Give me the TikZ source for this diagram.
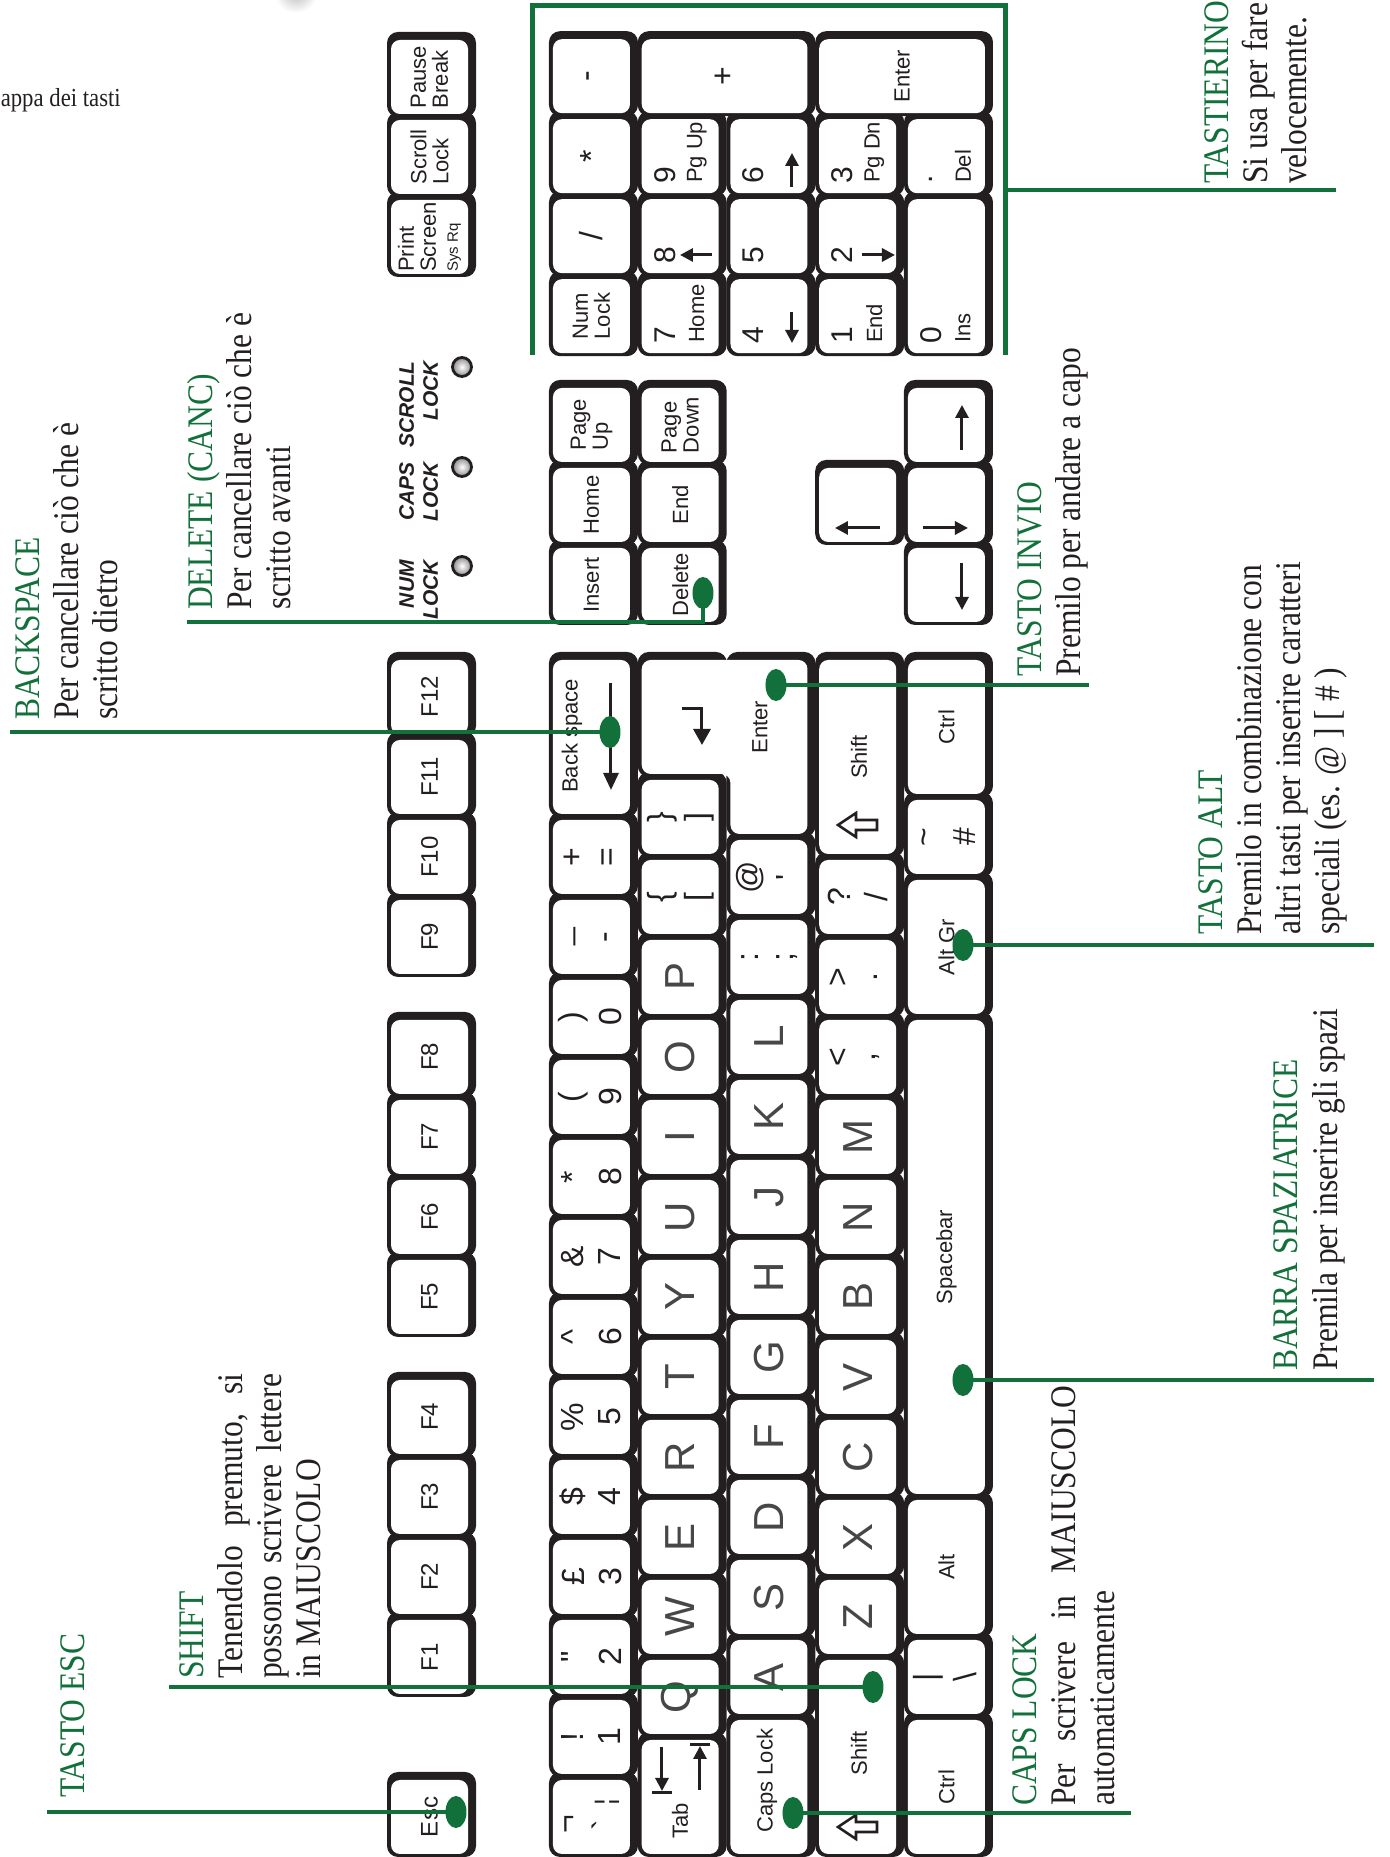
\documentclass[tikz,border=0pt]{standalone}
\usepackage{fontspec}
\setmainfont{Liberation Serif}
\newfontfamily\annfont{Liberation Serif}[FakeStretch=0.875]
\newfontfamily\keyfont{Liberation Sans}
\usetikzlibrary{arrows.meta}
\definecolor{kbGreen}{RGB}{18,112,58}
\definecolor{kbBlack}{RGB}{35,31,32}
\pgfdeclarelayer{keyshadow}
\pgfsetlayers{keyshadow,main}

% one key: [label style]{name}{column}{width}{row}{rows}{label}
\newcommand{\kbkey}[7][keysmall]{%
  \pgfmathsetmacro\kxa{80*(#3)+3}%
  \pgfmathsetmacro\kxb{80*((#3)+(#4))-3}%
  \pgfmathsetmacro\kya{759-88.75*(#5)}%
  \pgfmathsetmacro\kyb{\kya+77+88.75*((#6)-1)}%
  \pgfmathsetmacro\kxc{(\kxa+\kxb)/2}%
  \pgfmathsetmacro\kyc{(\kya+\kyb)/2}%
  \begin{pgfonlayer}{keyshadow}
    \fill[kbBlack, rounded corners=11pt] (\kxa-3,\kya-8) rectangle (\kxb+8,\kyb+4);
  \end{pgfonlayer}
  \fill[white, rounded corners=9pt] (\kxa,\kya) rectangle (\kxb,\kyb);
  \node[#1] (#2) at (\kxc,\kyc) {#7};
}
\newcommand{\kbtwo}[5]{%
  \kbkey{#1}{#2}{1}{#3}{1}{}%
  \node[keynum] (#1-up) at (\kxc,\kyc+18.5) {#4};
  \node[keynum] (#1-lo) at (\kxc,\kyc-18.5) {#5};
}
\newcommand{\kbpad}[5]{%
  \kbkey{#1}{#2}{1}{#3}{1}{}%
  \node[keypad, anchor=west] (#1-num) at (\kxa+9,\kya+54) {#4};
  \node[keysmall, anchor=west] (#1-txt) at (\kxa+10,\kya+22) {#5};
}
\newcommand{\kbshiftsym}[2]{%
  \draw[kbBlack, line width=2.6pt, line join=miter] (#1,#2+39) -- (#1+12,#2+21) -- (#1+5,#2+21)
    -- (#1+5,#2) -- (#1-5,#2) -- (#1-5,#2+21) -- (#1-12,#2+21) -- cycle;
}
\newcommand{\notetitle}[1]{\hbox{\color{kbGreen}#1}}

\begin{document}
\begin{tikzpicture}[x=1pt, y=1pt, rotate=90, transform shape,
  keysmall/.style={font=\keyfont\fontsize{22}{22}\selectfont, inner sep=0, align=center, text=kbBlack},
  keyfn/.style={font=\keyfont\fontsize{24}{24}\selectfont, inner sep=0, text=kbBlack},
  keylet/.style={font=\keyfont\fontsize{42}{42}\selectfont, inner sep=0, text=black!72},
  keynum/.style={font=\keyfont\fontsize{32}{32}\selectfont, inner sep=0, text=kbBlack},
  keypad/.style={font=\keyfont\fontsize{30}{30}\selectfont, inner sep=0, text=kbBlack},
  ledlab/.style={font=\keyfont\bfseries\itshape\fontsize{21}{21}\selectfont, inner sep=0, anchor=base east, text=kbBlack},
  note/.style={font=\annfont\fontsize{36}{39}\selectfont, inner sep=0, anchor=base west, text=kbBlack},
  leader/.style={kbGreen, line width=4.5pt},
  keydot/.style={kbGreen},
  keyarrow/.style={kbBlack, line width=3pt, -{Triangle[length=13pt, width=13pt]}}
]
\useasboundingbox (0,0) rectangle (1857,1389);
\shade[inner color=black!28, outer color=white] (1866,1093) circle (22);
\node[rotate=-90, anchor=base east, inner sep=0, font=\annfont\fontsize{26}{30}\selectfont, text=kbBlack]
  (mapTitle) at (1750,1268) {appa dei tasti};

% function row
\kbkey[keyfn]{kEsc}{0}{1}{-1.825}{1}{Esc}
\foreach \n/\c in {1/2,2/3,3/4,4/5,5/6.5,6/7.5,7/8.5,8/9.5,9/11,10/12,11/13,12/14}
  {\kbkey[keyfn]{kF\n}{\c}{1}{-1.825}{1}{F\n}}
\kbkey[keysmall, align=left]{kPrint}{19.75}{1}{-1.825}{1}{Print\\Screen\\{\fontsize{15}{16}\selectfont Sys Rq}}
\kbkey[keysmall, align=left]{kScroll}{20.75}{1}{-1.825}{1}{Scroll\\Lock}
\kbkey[keysmall, align=left]{kPause}{21.75}{1}{-1.825}{1}{Pause\\Break}

% number row
\kbkey{kGrave}{0}{1}{0}{1}{}
\node[keynum] (kGrave-up) at (33,818) {¬};
\node[keynum] (kGrave-lo) at (32,785) {\textasciigrave};
\node[keynum, font=\keyfont\fontsize{26}{26}\selectfont] (kGrave-bar) at (55,782) {¦};
\kbtwo{kOne}{1}{0}{!}{1}
\kbtwo{kTwo}{2}{0}{\textquotedbl}{2}
\kbtwo{kThree}{3}{0}{£}{3}
\kbtwo{kFour}{4}{0}{\$}{4}
\kbtwo{kFive}{5}{0}{\%}{5}
\kbtwo{kSix}{6}{0}{\textasciicircum}{6}
\kbtwo{kSeven}{7}{0}{\&}{7}
\kbtwo{kEight}{8}{0}{*}{8}
\kbtwo{kNine}{9}{0}{(}{9}
\kbtwo{kZero}{10}{0}{)}{0}
\kbtwo{kMinus}{11}{0}{\_}{-}
\kbtwo{kEqual}{12}{0}{+}{=}
\kbkey{kBack}{13}{2}{0}{1}{}
\node[keysmall] (kBack-txt) at (1121,817) {Back space};
\draw[keyarrow, -{Triangle[length=17pt, width=15pt]}] (1174,778) -- (1067,778);

% qwerty row
\kbkey{kTab}{0}{1.5}{1}{1}{}
\node[keysmall, anchor=west] (kTab-txt) at (18,709) {Tab};
\draw[keyarrow] (110,727) -- (66,727);
\draw[kbBlack, line width=3pt] (64.5,717) -- (64.5,737);
\draw[keyarrow] (67,689) -- (111,689);
\draw[kbBlack, line width=3pt] (112.5,679) -- (112.5,699);
\foreach \l [count=\i from 0] in {Q,W,E,R,T,Y,U,I,O,P}
  {\kbkey[keylet]{k\l}{1.5+\i}{1}{1}{1}{\l}}
\kbtwo{kLBrace}{11.5}{1}{\{}{[}
\kbtwo{kRBrace}{12.5}{1}{\}}{]}
\begin{pgfonlayer}{keyshadow}
  \fill[kbBlack, rounded corners=11pt] (1080,662) rectangle (1205,751.25);
  \fill[kbBlack, rounded corners=11pt] (1020,573.5) rectangle (1205,662.5);
\end{pgfonlayer}
\fill[white, rounded corners=9pt] (1083,747.25) -- (1197,747.25) -- (1197,581.5) -- (1023,581.5)
  -- (1023,658.5) -- (1083,658.5) -- cycle;
\node[keysmall] (kEnter) at (1130,629) {Enter};
\draw[kbBlack, line width=3pt, -{Triangle[length=16pt, width=17pt]}] (1148,707) -- (1148,687) -- (1112,687);

% home row
\kbkey{kCaps}{0}{1.75}{2}{1}{}
\node[keysmall, anchor=west] (kCaps-txt) at (24,622) {Caps Lock};
\foreach \l [count=\i from 0] in {A,S,D,F,G,H,J,K,L}
  {\kbkey[keylet]{k\l}{1.75+\i}{1}{2}{1}{\l}}
\kbtwo{kColon}{10.75}{2}{:}{;}
\kbtwo{kAt}{11.75}{2}{@}{\textquotesingle}

% shift row
\kbkey{kLShift}{0}{2.5}{3}{1}{}
\node[keysmall] (kLShift-txt) at (104,530) {Shift};
\kbshiftsym{30}{512}
\foreach \l [count=\i from 0] in {Z,X,C,V,B,N,M}
  {\kbkey[keylet]{k\l}{2.5+\i}{1}{3}{1}{\l}}
\kbtwo{kComma}{9.5}{3}{<}{,}
\kbtwo{kPeriod}{10.5}{3}{>}{.}
\kbtwo{kSlash}{11.5}{3}{?}{/}
\kbkey{kRShift}{12.5}{2.5}{3}{1}{}
\node[keysmall] (kRShift-txt) at (1100,530) {Shift};
\kbshiftsym{1032}{512}

% bottom row
\kbkey{kLCtrl}{0}{1.75}{4}{1}{Ctrl}
\kbtwo{kPipe}{1.75}{4}{|}{\textbackslash}
\kbkey{kAlt}{2.75}{1.75}{4}{1}{Alt}
\kbkey{kSpace}{4.5}{6}{4}{1}{Spacebar}
\kbkey{kAltGr}{10.5}{1.75}{4}{1}{Alt Gr}
\kbtwo{kHash}{12.25}{4}{\textasciitilde}{\#}
\kbkey{kRCtrl}{13.25}{1.75}{4}{1}{Ctrl}

% editing block and arrows
\kbkey{kIns}{15.4}{1}{0}{1}{Insert}
\kbkey{kHome}{16.4}{1}{0}{1}{Home}
\kbkey[keysmall, align=left]{kPgUp}{17.4}{1}{0}{1}{Page\\Up}
\kbkey{kDel}{15.4}{1}{1}{1}{Delete}
\kbkey{kEnd}{16.4}{1}{1}{1}{End}
\kbkey[keysmall, align=left]{kPgDn}{17.4}{1}{1}{1}{Page\\Down}
\kbkey{kUp}{16.4}{1}{3}{1}{}
\draw[keyarrow] (1329,509) -- (1329,554);
\kbkey{kLeft}{15.4}{1}{4}{1}{}
\draw[keyarrow] (1294,427) -- (1247,427);
\kbkey{kDown}{16.4}{1}{4}{1}{}
\draw[keyarrow] (1329,466) -- (1329,421);
\kbkey{kRight}{17.4}{1}{4}{1}{}
\draw[keyarrow] (1407,427) -- (1452,427);

% keypad
\kbkey[keysmall, align=left]{kNum}{18.76}{1}{0}{1}{Num\\Lock}
\kbkey[keynum]{kDiv}{19.76}{1}{0}{1}{/}
\kbkey[keynum]{kMul}{20.76}{1}{0}{1}{*}
\kbkey[keynum]{kSub}{21.76}{1}{0}{1}{-}
\kbpad{kPadSeven}{18.76}{1}{7}{Home}
\kbpad{kPadEight}{19.76}{1}{8}{}
\draw[keyarrow] (1602,677) -- (1602,709);
\kbpad{kPadNine}{20.76}{1}{9}{Pg Up}
\kbkey[keynum]{kAdd}{21.76}{1}{2}{2}{+}
\kbpad{kPadFour}{18.76}{2}{4}{}
\draw[keyarrow] (1545,597) -- (1514,597);
\kbpad{kPadFive}{19.76}{2}{5}{}
\kbpad{kPadSix}{20.76}{2}{6}{}
\draw[keyarrow] (1670,597) -- (1704,597);
\kbpad{kPadOne}{18.76}{3}{1}{End}
\kbpad{kPadTwo}{19.76}{3}{2}{}
\draw[keyarrow] (1602,527) -- (1602,494);
\kbpad{kPadThree}{20.76}{3}{3}{Pg Dn}
\kbkey{kPadEnter}{21.76}{1}{4}{2}{Enter}
\kbkey{kPadZero}{18.76}{2}{4}{1}{}
\node[keypad, anchor=west] (kPadZero-num) at (\kxa+9,\kya+54) {0};
\node[keysmall, anchor=west] (kPadZero-txt) at (\kxa+10,\kya+22) {Ins};
\kbpad{kPadDot}{20.76}{4}{.}{Del}

% lock lights
\node[ledlab] (ledNumA) at (1297,975) {NUM};
\node[ledlab] (ledNumB) at (1297,951) {LOCK};
\node[ledlab] (ledCapsA) at (1395,975) {CAPS};
\node[ledlab] (ledCapsB) at (1395,951) {LOCK};
\node[ledlab] (ledScrollA) at (1496,975) {SCROLL};
\node[ledlab] (ledScrollB) at (1496,951) {LOCK};
\foreach \x in {1291,1390,1490}
  \shadedraw[inner color=white, outer color=black!45, draw=kbBlack, line width=2.8pt] (\x,927) circle (9.5);

% keypad frame
\draw[kbGreen, line width=5pt] (1502,856) -- (1851,856) -- (1851,383) -- (1502,383);

% leader ends
\coordinate (dotEsc) at (45,933);     \coordinate (endEsc) at (45,1342);
\coordinate (dotShift) at (170,516);  \coordinate (endShift) at (170,1220);
\coordinate (dotBack) at (1125,779);  \coordinate (endBack) at (1125,1379);
\coordinate (dotDel) at (1264,686);   \coordinate (bendDel) at (1235,686);
\coordinate (endDel) at (1235,1202);
\coordinate (padEdge) at (1667,383);  \coordinate (endPad) at (1667,53);
\coordinate (dotEnter) at (1172,613); \coordinate (endEnter) at (1172,300);
\coordinate (dotAltGr) at (912,426);  \coordinate (endAltGr) at (912,15);
\coordinate (dotSpace) at (477,426);  \coordinate (endSpace) at (477,15);
\coordinate (dotCaps) at (44,596);    \coordinate (endCaps) at (44,258);

\draw[leader] (endEsc) -- (dotEsc);
\draw[leader] (endShift) -- (dotShift);
\draw[leader] (endBack) -- (dotBack);
\draw[leader] (endDel) -- (bendDel) -- (dotDel);
\draw[leader] (padEdge) -- (endPad);
\draw[leader] (dotEnter) -- (endEnter);
\draw[leader] (dotAltGr) -- (endAltGr);
\draw[leader] (dotSpace) -- (endSpace);
\draw[leader] (dotCaps) -- (endCaps);
\foreach \d in {dotEsc,dotShift,dotBack,dotDel,dotEnter,dotAltGr,dotSpace,dotCaps}
  \fill[keydot] (\d) ellipse [x radius=16, y radius=10.5];

% notes
\node[note] (noteEsc) at (59,1304) {\vtop{\notetitle{TASTO ESC}}};
\node[note] (noteShift) at (178,1185) {\vtop{\notetitle{SHIFT}
  \hbox to 305pt{Tenendolo\hfill premuto,\hfill si}
  \hbox to 305pt{possono\hfill scrivere\hfill lettere}
  \hbox{in MAIUSCOLO}}};
\node[note] (noteBack) at (1137,1349) {\vtop{\notetitle{BACKSPACE}
  \hbox{Per cancellare ciò che è}\hbox{scritto dietro}}};
\node[note] (noteDel) at (1247,1176) {\vtop{\notetitle{DELETE (CANC)}
  \hbox{Per cancellare ciò che è}\hbox{scritto avanti}}};
\node[note] (notePad) at (1673,160) {\vtop{\notetitle{TASTIERINO}
  \hbox{Si usa per fare}\hbox{velocemente.}}};
\node[note] (noteEnter) at (1180,347) {\vtop{\notetitle{TASTO INVIO}
  \hbox{Premilo per andare a capo}}};
\node[note] (noteAlt) at (922,166) {\vtop{\notetitle{TASTO ALT}
  \hbox{Premilo in combinazione con}\hbox{altri tasti per inserire caratteri}
  \hbox{speciali (es. @ ] [ \# )}}};
\node[note] (noteSpace) at (486,91) {\vtop{\notetitle{BARRA SPAZIATRICE}
  \hbox{Premila per inserire gli spazi}}};
\node[note] (noteCaps) at (51,352) {\vtop{\notetitle{CAPS LOCK}
  \hbox to 420pt{Per\hfill scrivere\hfill in\hfill MAIUSCOLO}
  \hbox{automaticamente}}};
\end{tikzpicture}
\end{document}
